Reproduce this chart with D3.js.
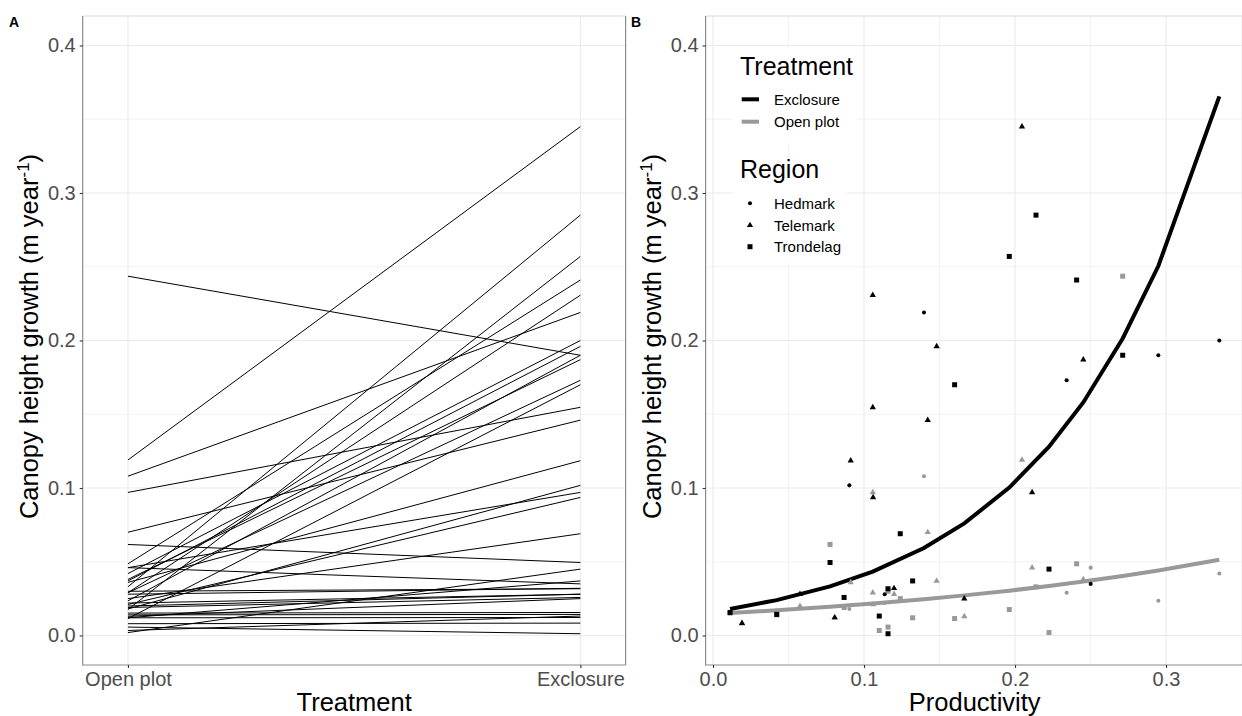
<!DOCTYPE html>
<html>
<head>
<meta charset="utf-8">
<script src="https://cdn.jsdelivr.net/npm/d3@7"></script>
<style>
  html, body { margin: 0; padding: 0; background: #fff; }
  svg { display: block; font-family: "Liberation Sans", Arial, sans-serif; }
</style>
</head>
<body>
<svg id="chart" width="1242" height="716"></svg>
<script>
// ---------- data (one entry per site) ----------
const regions = ["Hedmark", "Telemark", "Trondelag"];
const treatments = ["Open plot", "Exclosure"];
const productivity = [
  0.0903, 0.1137, 0.1397, 0.2342, 0.2501, 0.2949, 0.3353,
  0.0192, 0.0576, 0.0806, 0.0912, 0.1058, 0.1058, 0.1060, 0.1199, 0.1422, 0.1481, 0.1664, 0.2046, 0.2113, 0.2452,
  0.0113, 0.0422, 0.0775, 0.0868, 0.1101, 0.1159, 0.1159, 0.1240, 0.1322, 0.1600, 0.1962, 0.2139, 0.2225, 0.2408, 0.2713
];
const siteRegion = [
  "Hedmark","Hedmark","Hedmark","Hedmark","Hedmark","Hedmark","Hedmark",
  "Telemark","Telemark","Telemark","Telemark","Telemark","Telemark","Telemark","Telemark","Telemark","Telemark","Telemark","Telemark","Telemark","Telemark",
  "Trondelag","Trondelag","Trondelag","Trondelag","Trondelag","Trondelag","Trondelag","Trondelag","Trondelag","Trondelag","Trondelag","Trondelag","Trondelag","Trondelag","Trondelag"
];
const openPlotGrowth = [
  0.018, 0.022, 0.108, 0.029, 0.046, 0.0235, 0.042,
  0.008, 0.020, 0.012, 0.036, 0.029, 0.097, 0.021, 0.028, 0.070, 0.037, 0.013, 0.119, 0.046, 0.038,
  0.0152, 0.014, 0.0617, 0.019, 0.0034, 0.030, 0.0057, 0.025, 0.012, 0.0115, 0.0176, 0.033, 0.002, 0.0486, 0.2436
];
const exclosureGrowth = [
  0.1018, 0.028, 0.219, 0.173, 0.035, 0.190, 0.200,
  0.0084, 0.028, 0.0122, 0.1185, 0.2307, 0.1547, 0.0936, 0.032, 0.146, 0.196, 0.025, 0.345, 0.097, 0.187,
  0.0156, 0.0143, 0.0495, 0.0258, 0.0132, 0.0317, 0.0012, 0.069, 0.037, 0.170, 0.257, 0.285, 0.045, 0.241, 0.190
];
// fitted curves
const fitX        = [0.0113, 0.0422, 0.0775, 0.1058, 0.1397, 0.1664, 0.1962, 0.2225, 0.2452, 0.2713, 0.2949, 0.3353];
const fitExclosure = [0.018, 0.024, 0.0333, 0.0433, 0.0593, 0.076, 0.1003, 0.128, 0.158, 0.2014, 0.2505, 0.3655];
const fitOpenPlot  = [0.0152, 0.0171, 0.0195, 0.0217, 0.0246, 0.0272, 0.0304, 0.0336, 0.0366, 0.0403, 0.0441, 0.0513];
const yTicks = [0, 0.1, 0.2, 0.3, 0.4];
const yMinor = [0.05, 0.15, 0.25, 0.35];
const xTicksB = [0, 0.1, 0.2, 0.3];
const xMinorB = [0.05, 0.15, 0.25, 0.35];

const sites = productivity.map((p, i) => ({
  prod: p, region: siteRegion[i], open: openPlotGrowth[i], excl: exclosureGrowth[i]
}));

// ---------- layout ----------
const svg = d3.select("#chart");
const FONT = '"Liberation Sans", Arial, sans-serif';
const GREY = "#999999";
const panelTop = 16, panelBottom = 665;
const y = d3.scaleLinear().domain([-0.02, 0.42]).range([panelBottom, panelTop]);
const xA = d3.scalePoint().domain(treatments).range([82.7, 625.6]).padding(0.1);
const xB = d3.scaleLinear().domain([-0.0049, 0.3515]).range([705.6, 1243.8]);
const fmt = d3.format(".1f");

function panelFrame(x0, x1, vGrid, vMinor) {
  const g = svg.append("g");
  // minor grid
  yMinor.forEach(v => g.append("line").attr("x1", x0).attr("x2", x1).attr("y1", y(v)).attr("y2", y(v))
    .attr("stroke", "#f0f0f0").attr("stroke-width", 0.8));
  (vMinor || []).forEach(v => g.append("line").attr("x1", v).attr("x2", v).attr("y1", panelTop).attr("y2", panelBottom)
    .attr("stroke", "#f0f0f0").attr("stroke-width", 0.8));
  // major grid
  yTicks.forEach(v => g.append("line").attr("x1", x0).attr("x2", x1).attr("y1", y(v)).attr("y2", y(v))
    .attr("stroke", "#ebebeb").attr("stroke-width", 1.1));
  vGrid.forEach(v => g.append("line").attr("x1", v).attr("x2", v).attr("y1", panelTop).attr("y2", panelBottom)
    .attr("stroke", "#ebebeb").attr("stroke-width", 1.1));
  return g;
}

function panelBorder(x0, x1) {
  const g = svg.append("g");
  g.append("line").attr("x1", x0).attr("x2", x1).attr("y1", panelTop).attr("y2", panelTop)
    .attr("stroke", "#d9d9d9").attr("stroke-width", 1.1);
  g.append("line").attr("x1", x1).attr("x2", x1).attr("y1", panelTop).attr("y2", panelBottom)
    .attr("stroke", "#8c8c8c").attr("stroke-width", 1.2);
  g.append("line").attr("x1", x0).attr("x2", x0).attr("y1", panelTop).attr("y2", panelBottom + 0.6)
    .attr("stroke", "#8c8c8c").attr("stroke-width", 1.2);
  g.append("line").attr("x1", x0).attr("x2", x1).attr("y1", panelBottom).attr("y2", panelBottom)
    .attr("stroke", "#8c8c8c").attr("stroke-width", 1.2);
}

function yAxis(x0) {
  const ax = d3.axisLeft(y).tickValues(yTicks).tickFormat(fmt).tickSize(3).tickPadding(4);
  const g = svg.append("g").attr("transform", `translate(${x0},0)`).call(ax);
  g.select(".domain").remove();
  g.selectAll(".tick line").attr("stroke", "#333333").attr("stroke-width", 1.1);
  g.selectAll(".tick text").attr("fill", "#4d4d4d").style("font-size", "20px").style("font-family", FONT);
}

function yTitle(cx) {
  const t = svg.append("text")
    .attr("transform", `translate(${cx},${(panelTop + panelBottom) / 2 - 4}) rotate(-90)`)
    .attr("text-anchor", "middle").style("font-size", "25.5px").style("font-family", FONT).attr("fill", "#000");
  t.append("tspan").text("Canopy height growth (m year");
  t.append("tspan").text("-1").style("font-size", "17px").attr("dy", "-9");
  t.append("tspan").text(")").attr("dy", "9");
}

// ---------- Panel A ----------
const A0 = 82.7, A1 = 625.6;
panelFrame(A0, A1, treatments.map(d => xA(d)), null);
const gA = svg.append("g");
gA.selectAll("line.site").data(sites).join("line").attr("class", "site")
  .attr("x1", xA("Open plot")).attr("y1", d => y(d.open))
  .attr("x2", xA("Exclosure")).attr("y2", d => y(d.excl))
  .attr("stroke", "#000").attr("stroke-width", 1);
panelBorder(A0, A1);
yAxis(A0);
const axA = d3.axisBottom(xA).tickSize(3).tickPadding(4);
const gxA = svg.append("g").attr("transform", `translate(0,${panelBottom})`).call(axA);
gxA.select(".domain").remove();
gxA.selectAll(".tick line").attr("stroke", "#333333").attr("stroke-width", 1.1);
gxA.selectAll(".tick text").attr("fill", "#4d4d4d").style("font-size", "20px").style("font-family", FONT);
svg.append("text").attr("x", (A0 + A1) / 2).attr("y", 711).attr("text-anchor", "middle")
  .style("font-size", "25.5px").style("font-family", FONT).text("Treatment");
yTitle(38);
svg.append("text").attr("x", 14).attr("y", 27).attr("text-anchor", "middle")
  .style("font-size", "14px").style("font-weight", "bold").style("font-family", FONT).text("A");

// ---------- Panel B ----------
const B0 = 705.6, B1 = 1243.8;
panelFrame(B0, B1, xTicksB.map(v => xB(v)), xMinorB.map(v => xB(v)));
const line = d3.line().x(d => xB(d[0])).y(d => y(d[1]));
const gB = svg.append("g");
gB.append("path").datum(fitX.map((v, i) => [v, fitOpenPlot[i]])).attr("d", line)
  .attr("fill", "none").attr("stroke", GREY).attr("stroke-width", 4);
gB.append("path").datum(fitX.map((v, i) => [v, fitExclosure[i]])).attr("d", line)
  .attr("fill", "none").attr("stroke", "#000").attr("stroke-width", 4);

const shapeType = { Hedmark: d3.symbolCircle, Telemark: d3.symbolTriangle, Trondelag: d3.symbolSquare };
const shapeSize = { Hedmark: 13, Telemark: 17, Trondelag: 25 };
const sym = r => d3.symbol().type(shapeType[r]).size(shapeSize[r])();
gB.selectAll("path.open").data(sites).join("path").attr("class", "open")
  .attr("transform", d => `translate(${xB(d.prod)},${y(d.open)})`)
  .attr("d", d => sym(d.region)).attr("fill", GREY);
gB.selectAll("path.excl").data(sites).join("path").attr("class", "excl")
  .attr("transform", d => `translate(${xB(d.prod)},${y(d.excl)})`)
  .attr("d", d => sym(d.region)).attr("fill", "#000");

panelBorder(B0, B1);
yAxis(B0);
const axB = d3.axisBottom(xB).tickValues(xTicksB).tickFormat(fmt).tickSize(3).tickPadding(4);
const gxB = svg.append("g").attr("transform", `translate(0,${panelBottom})`).call(axB);
gxB.select(".domain").remove();
gxB.selectAll(".tick line").attr("stroke", "#333333").attr("stroke-width", 1.1);
gxB.selectAll(".tick text").attr("fill", "#4d4d4d").style("font-size", "20px").style("font-family", FONT);
svg.append("text").attr("x", (B0 + B1) / 2).attr("y", 711).attr("text-anchor", "middle")
  .style("font-size", "25.5px").style("font-family", FONT).text("Productivity");
yTitle(38 + (B0 - A0));
svg.append("text").attr("x", 636).attr("y", 27).attr("text-anchor", "middle")
  .style("font-size", "14px").style("font-weight", "bold").style("font-family", FONT).text("B");

// ---------- Legends ----------
const lg = svg.append("g");
lg.append("rect").attr("x", 733).attr("y", 47).attr("width", 124).attr("height", 96).attr("fill", "#fff");
lg.append("rect").attr("x", 733).attr("y", 157).attr("width", 114).attr("height", 106).attr("fill", "#fff");
lg.append("text").attr("x", 740).attr("y", 75).style("font-size", "25px").style("font-family", FONT).text("Treatment");
const trtKeys = [{ label: "Exclosure", color: "#000", cy: 99.3 }, { label: "Open plot", color: GREY, cy: 121.7 }];
trtKeys.forEach(k => {
  lg.append("line").attr("x1", 741.7).attr("x2", 759).attr("y1", k.cy).attr("y2", k.cy)
    .attr("stroke", k.color).attr("stroke-width", 4);
  lg.append("text").attr("x", 774).attr("y", k.cy + 5.3).style("font-size", "15px").style("font-family", FONT).text(k.label);
});
lg.append("text").attr("x", 740).attr("y", 178).style("font-size", "25px").style("font-family", FONT).text("Region");
const regY = [203.3, 225.3, 246.7];
regions.forEach((r, i) => {
  lg.append("path").attr("transform", `translate(750,${regY[i]})`).attr("d", sym(r)).attr("fill", "#000");
  lg.append("text").attr("x", 774).attr("y", regY[i] + 5.3).style("font-size", "15px").style("font-family", FONT).text(r);
});
</script>
</body>
</html>
